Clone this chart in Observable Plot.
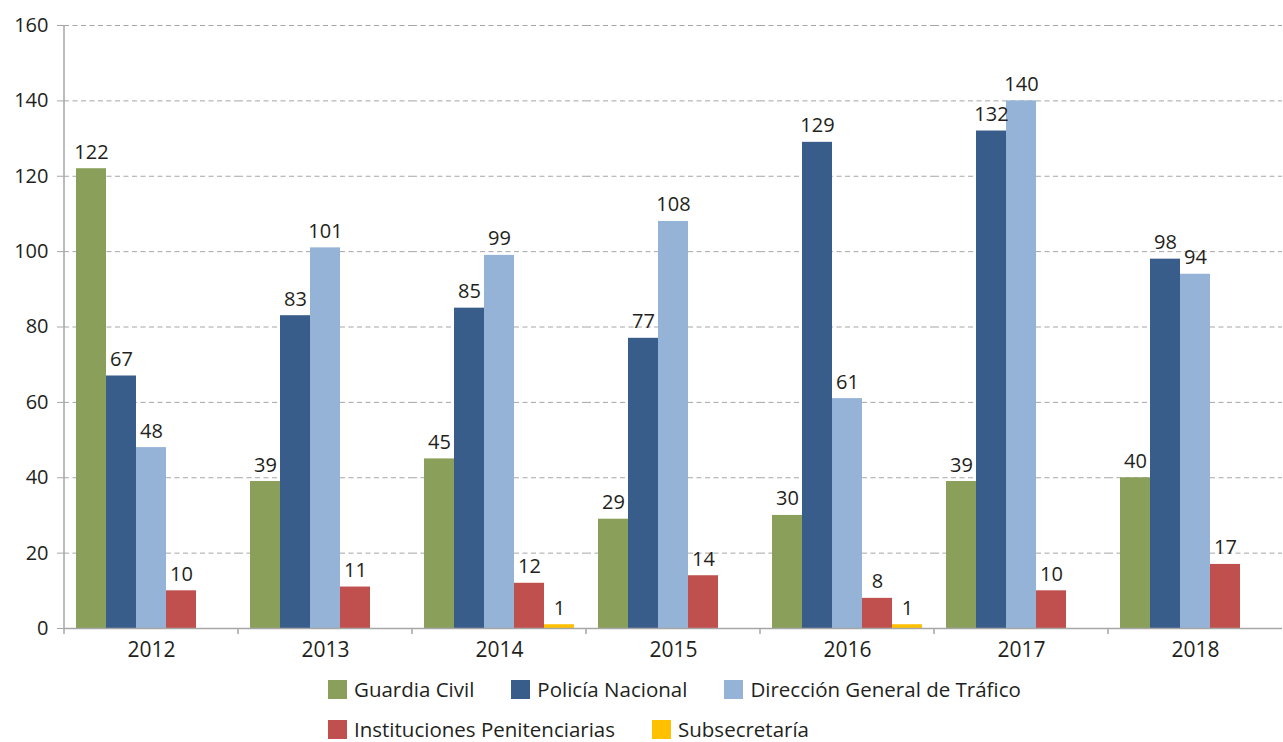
<!DOCTYPE html>
<html><head><meta charset="utf-8">
<script src="https://cdn.jsdelivr.net/npm/d3@7"></script>
<script src="https://cdn.jsdelivr.net/npm/@observablehq/plot@0.6"></script>
<style>
body{margin:0;background:#fff;font-family:"Open Sans",sans-serif;color:#231F20}
#wrap{position:relative;width:1283px;height:742px;overflow:hidden}
#wrap svg{display:block}
.row{position:absolute;left:328px;display:flex;align-items:center;height:19px;white-space:nowrap}
.item{display:flex;align-items:center;margin-right:37px}
.sw{width:19px;height:19px;margin-right:7px}
.lab{font-size:20.5px;line-height:19px}
</style></head><body><div id="wrap"></div>
<script>
const years = ["2012", "2013", "2014", "2015", "2016", "2017", "2018"];
const series = ["Guardia Civil", "Policía Nacional", "Dirección General de Tráfico", "Instituciones Penitenciarias", "Subsecretaría"];
const guardiaCivil = [122, 39, 45, 29, 30, 39, 40];
const policiaNacional = [67, 83, 85, 77, 129, 132, 98];
const direccionTrafico = [48, 101, 99, 108, 61, 140, 94];
const institucionesPenitenciarias = [10, 11, 12, 14, 8, 10, 17];
const subsecretaria = [0, 0, 1, 0, 1, 0, 0];
const colors = ["#8A9F5A", "#385D8A", "#95B3D7", "#C0504D", "#FFC000"];
const yTicks = [0, 20, 40, 60, 80, 100, 120, 140, 160];
const legendRows = [[0, 1, 2], [3, 4]];

const valuesBySeries = [guardiaCivil, policiaNacional, direccionTrafico, institucionesPenitenciarias, subsecretaria];
const data = years.flatMap((year, i) => series.map((s, k) => ({year, series: s, value: valuesBySeries[k][i]})));

const plot = Plot.plot({
  width: 1283, height: 670,
  marginLeft: 62, marginRight: 0, marginTop: 25, marginBottom: 42,
  style: {fontFamily: "'Open Sans', sans-serif", fontSize: "20px", color: "#231F20", background: "white", overflow: "visible"},
  fx: {domain: years, padding: 0, label: null},
  x: {domain: series, paddingInner: 0, paddingOuter: 0.31, align: 0.5, axis: null},
  y: {domain: [0, 160], label: null},
  color: {domain: series, range: colors},
  marks: [
    Plot.ruleY(yTicks.filter(d => d > 0), {stroke: "#A6A6A6", strokeDasharray: "5,3.5"}),
    Plot.barY(data, {fx: "year", x: "series", y: "value", fill: "series"}),
    Plot.text(data.filter(d => d.value > 0), {fx: "year", x: "series", y: "value", text: d => String(d.value), lineAnchor: "bottom", dy: -10, fill: "#231F20", fontSize: 20}),
    Plot.ruleY([0], {stroke: "#A6A6A6", strokeWidth: 1.5}),
    Plot.axisY(yTicks, {tickSize: 7, tickPadding: 9, stroke: "#A6A6A6", fill: "#231F20", fontSize: 20, label: null}),
    Plot.axisFx({anchor: "bottom", tickSize: 0, tickPadding: 14, fontSize: 21, label: null})
  ]
});

// axis line and group boundary ticks, positioned through the plot's own scales
const fx = plot.scale("fx"), y = plot.scale("y");
const y0 = y.apply(0), yTop = y.apply(160);
const g = d3.select(plot).append("g").attr("stroke", "#A6A6A6").attr("stroke-width", 1.5);
g.append("line").attr("x1", fx.apply(years[0])).attr("x2", fx.apply(years[0])).attr("y1", yTop).attr("y2", y0 + 6);
years.slice(1).forEach(yr => {
  const xx = fx.apply(yr);
  g.append("line").attr("x1", xx).attr("x2", xx).attr("y1", y0).attr("y2", y0 + 6);
});

const wrap = document.getElementById("wrap");
wrap.appendChild(plot);
legendRows.forEach((row, r) => {
  const div = document.createElement("div");
  div.className = "row";
  div.style.top = (680 + r * 40) + "px";
  row.forEach(k => {
    const it = document.createElement("div");
    it.className = "item";
    const sw = document.createElement("div");
    sw.className = "sw";
    sw.style.background = colors[k];
    const lab = document.createElement("span");
    lab.className = "lab";
    lab.textContent = series[k];
    it.appendChild(sw); it.appendChild(lab);
    div.appendChild(it);
  });
  wrap.appendChild(div);
});
</script></body></html>
